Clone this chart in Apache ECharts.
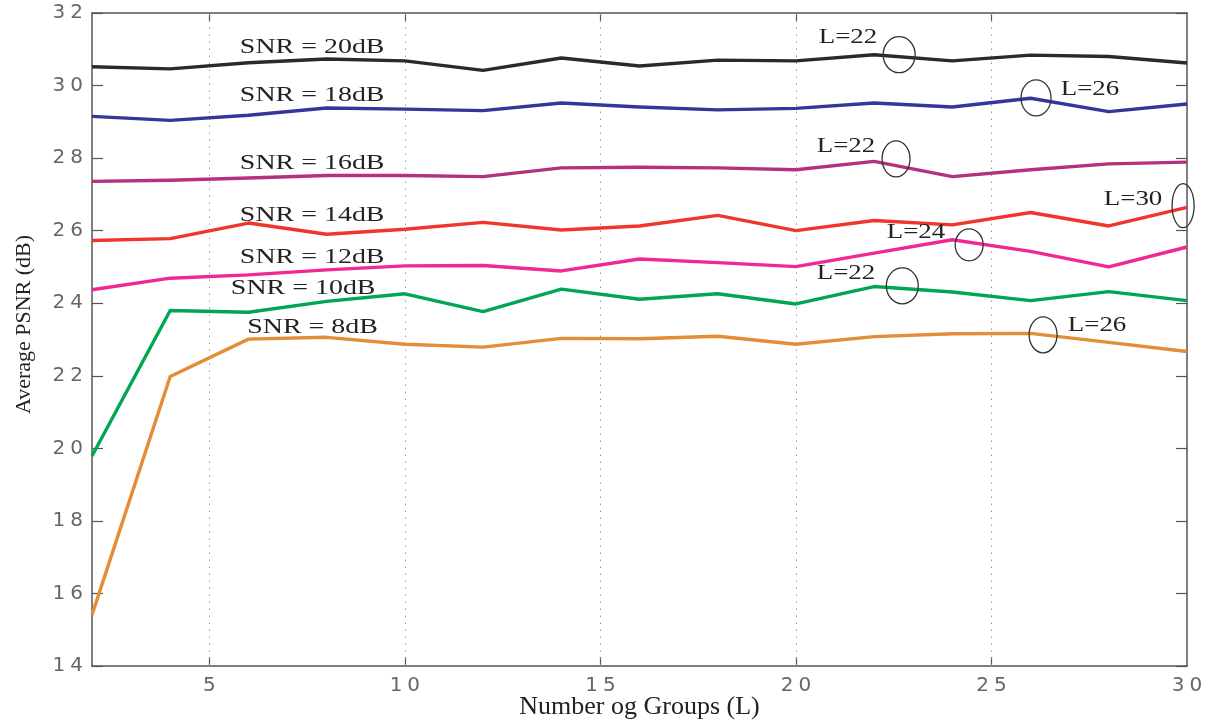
<!DOCTYPE html>
<html>
<head>
<meta charset="utf-8">
<script src="https://cdn.jsdelivr.net/npm/echarts@6/dist/echarts.min.js"></script>
<style>
  html, body { margin: 0; padding: 0; background: #fff; }
  #chart { width: 1215px; height: 725px; }
</style>
</head>
<body>
<div id="chart"></div>
<script>
// Number of groups L on the x axis
const groups = [2, 4, 6, 8, 10, 12, 14, 16, 18, 20, 22, 24, 26, 28, 30];

// Average PSNR (dB) per channel SNR
const snr20 = [30.52, 30.46, 30.63, 30.73, 30.68, 30.42, 30.76, 30.54, 30.70, 30.68, 30.85, 30.68, 30.84, 30.80, 30.62];
const snr18 = [29.15, 29.04, 29.18, 29.38, 29.35, 29.31, 29.52, 29.41, 29.33, 29.37, 29.52, 29.41, 29.65, 29.28, 29.49];
const snr16 = [27.36, 27.39, 27.45, 27.52, 27.52, 27.49, 27.73, 27.75, 27.73, 27.68, 27.91, 27.49, 27.68, 27.84, 27.89];
const snr14 = [25.73, 25.78, 26.21, 25.90, 26.04, 26.23, 26.02, 26.13, 26.42, 26.00, 26.28, 26.16, 26.50, 26.13, 26.64];
const snr12 = [24.37, 24.69, 24.78, 24.92, 25.03, 25.04, 24.89, 25.22, 25.12, 25.01, 25.38, 25.75, 25.43, 25.00, 25.55];
const snr10 = [19.79, 23.80, 23.75, 24.05, 24.26, 23.77, 24.39, 24.11, 24.26, 23.98, 24.46, 24.31, 24.07, 24.32, 24.07];
const snr8  = [15.41, 21.98, 23.01, 23.06, 22.87, 22.79, 23.03, 23.02, 23.09, 22.87, 23.08, 23.16, 23.17, 22.92, 22.67];

const seriesNames = ['SNR = 20dB', 'SNR = 18dB', 'SNR = 16dB', 'SNR = 14dB', 'SNR = 12dB', 'SNR = 10dB', 'SNR = 8dB'];
const seriesValues = [snr20, snr18, snr16, snr14, snr12, snr10, snr8];

// x tick values with labels / vertical dotted guides
const xTickValues = [5, 10, 15, 20, 25, 30];
const xGuideValues = [5, 10, 15, 20, 25];

// Curve name labels, in data coordinates [L, PSNR]
const nameLabelAt = [[7.63, 31.07], [7.63, 29.72], [7.63, 27.86], [7.63, 26.42], [7.63, 25.27], [7.40, 24.41], [7.64, 23.35]];

// Best-L callouts: text, text anchor and ring centre in data coordinates
const bestLText = ['L=22', 'L=26', 'L=22', 'L=30', 'L=24', 'L=22', 'L=26'];
const bestLTextAt = [[21.33, 31.32], [27.52, 29.88], [21.28, 28.31], [28.62, 26.85], [23.07, 25.94], [21.28, 24.81], [27.70, 23.38]];
const bestLRingAt = [[22.64, 30.85], [26.14, 29.66], [22.56, 27.98], [29.90, 26.69], [24.43, 25.61], [22.72, 24.48], [26.32, 23.13]];

// styling
const colors = ['#2a2a2a', '#36369a', '#b5307e', '#f2352c', '#ef2896', '#00a651', '#e38d36'];
const ringRadii = [[16, 18], [15, 18], [14, 18], [11, 22], [14, 16], [16, 18], [14, 18]];
const axisColor = '#555';
const serif = '"Liberation Serif", "DejaVu Serif", serif';
const sans = '"DejaVu Sans", sans-serif';
const spread = v => String(v).split('').join('\u2005');

const chart = echarts.init(document.getElementById('chart'), null, { renderer: 'canvas' });

const series = seriesValues.map((vals, i) => ({
  name: seriesNames[i],
  type: 'line',
  xAxisIndex: 0,
  yAxisIndex: 0,
  data: groups.map((g, k) => [g, vals[k]]),
  symbol: 'none',
  z: 3,
  lineStyle: { color: colors[i], width: 3.4, join: 'round' },
  itemStyle: { color: colors[i] },
  animation: false
}));

// dotted vertical guides
series[0].markLine = {
  silent: true,
  symbol: ['none', 'none'],
  label: { show: false },
  lineStyle: { color: '#9a9a9a', width: 1, type: [1.5, 5.5] },
  data: xGuideValues.map(v => ({ xAxis: v })),
  animation: false,
  z: 1
};

const tickLabel = { fontFamily: sans, fontSize: 20, color: '#666', formatter: spread };

chart.setOption({
  animation: false,
  backgroundColor: '#fff',
  grid: { left: 92, right: 28, top: 13, bottom: 59, containLabel: false, outerBoundsMode: 'none' },
  xAxis: [{
    type: 'value', position: 'bottom', min: 2, max: 30,
    name: 'Number og Groups (L)', nameLocation: 'middle', nameGap: 28, nameMoveOverlap: false,
    nameTextStyle: { fontFamily: serif, fontSize: 26, color: '#222' },
    axisLine: { show: true, lineStyle: { color: axisColor, width: 1.5 } },
    axisTick: { show: true, inside: true, length: 9, customValues: xGuideValues, lineStyle: { color: axisColor, width: 1.2 } },
    axisLabel: Object.assign({ show: true, customValues: xTickValues, margin: 10 }, tickLabel),
    splitLine: { show: false }
  }, {
    type: 'value', position: 'top', min: 2, max: 30,
    axisLine: { show: true, onZero: false, lineStyle: { color: axisColor, width: 1.5 } },
    axisTick: { show: true, inside: true, length: 9, customValues: xGuideValues, lineStyle: { color: axisColor, width: 1.2 } },
    axisLabel: { show: false },
    splitLine: { show: false }
  }],
  yAxis: [{
    type: 'value', position: 'left', min: 14, max: 32, interval: 2,
    name: 'Average PSNR (dB)', nameLocation: 'middle', nameGap: 57,
    nameTextStyle: { fontFamily: serif, fontSize: 22, color: '#222', padding: [0, 0, 0, 30] },
    axisLine: { show: true, onZero: false, lineStyle: { color: axisColor, width: 1.5 } },
    axisTick: { show: true, inside: true, length: 11, lineStyle: { color: axisColor, width: 1.2 } },
    axisLabel: Object.assign({ show: true, margin: 9 }, tickLabel),
    splitLine: { show: false }
  }, {
    type: 'value', position: 'right', min: 14, max: 32, interval: 2,
    axisLine: { show: true, onZero: false, lineStyle: { color: axisColor, width: 1.5 } },
    axisTick: { show: true, inside: true, length: 11, lineStyle: { color: axisColor, width: 1.2 } },
    axisLabel: { show: false },
    splitLine: { show: false }
  }],
  series: series
});

// Annotations: curve names and circled best-L callouts, positioned through the grid's scales
const toPx = p => chart.convertToPixel({ gridIndex: 0 }, p);
const graphics = [];
nameLabelAt.forEach((p, i) => {
  const [x, y] = toPx(p);
  graphics.push({
    type: 'text', x: x, y: y, scaleX: 1.27, z: 10, silent: true,
    style: { text: seriesNames[i], font: '22px ' + serif, fill: '#222',
             textAlign: 'center', textVerticalAlign: 'middle', align: 'center', verticalAlign: 'middle' }
  });
});
bestLText.forEach((t, i) => {
  const [tx, ty] = toPx(bestLTextAt[i]);
  graphics.push({
    type: 'text', x: tx, y: ty, scaleX: 1.28, z: 10, silent: true,
    style: { text: t, font: '21px ' + serif, fill: '#222',
             textAlign: 'center', textVerticalAlign: 'middle', align: 'center', verticalAlign: 'middle' }
  });
  const [cx, cy] = toPx(bestLRingAt[i]);
  graphics.push({
    type: 'ellipse', z: 10, silent: true,
    shape: { cx: cx, cy: cy, rx: ringRadii[i][0], ry: ringRadii[i][1] },
    style: { fill: 'none', stroke: '#333', lineWidth: 1.3 }
  });
});
chart.setOption({ graphic: graphics });
</script>
</body>
</html>
